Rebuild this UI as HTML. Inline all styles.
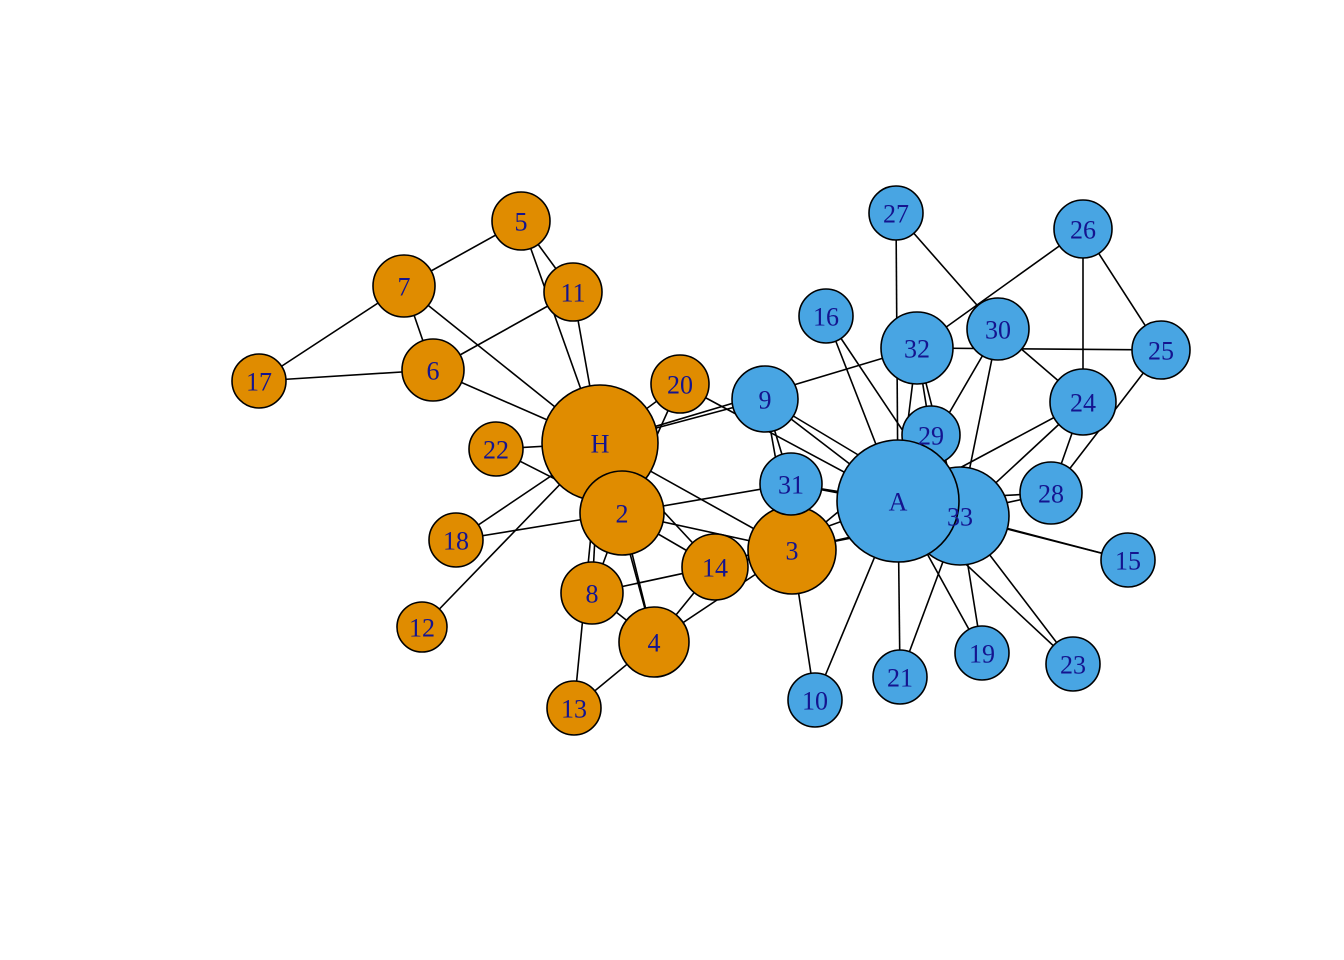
<!DOCTYPE html>
<html><head><meta charset="utf-8"><style>
html,body{margin:0;padding:0;background:#fff;}
svg{display:block;}
text{font-family:"Liberation Serif",serif;font-size:26px;fill:#14148f;text-anchor:middle;dominant-baseline:central;}
</style></head><body>
<svg id="g" width="1344" height="960" xmlns="http://www.w3.org/2000/svg"></svg>
<script>
var N={1:[600,443,58,'H'],2:[622,513,42],3:[792,550,44],4:[654,642,35],5:[521,221,29],6:[433,370,31],7:[404,286,31],8:[592,593,31],9:[765,399,33],10:[815,700,27],11:[573,292,29],12:[422,627,25],13:[574,708,27],14:[715,567,33],15:[1128,560,27],16:[826,316,27],17:[259,381,27],18:[456,540,27],19:[982,653,27],20:[680,384,29],21:[900,677,27],22:[496,449,27],23:[1073,664,27],24:[1083,402,33],25:[1161,350,29],26:[1083,229,29],27:[896,213,27],28:[1051,493,31],29:[931,435,29],30:[998,329,31],31:[791,484,31],32:[917,348,36],33:[960,516,49],34:[898,501,61,'A']};
var E=[[1,2],[1,3],[1,4],[1,5],[1,6],[1,7],[1,8],[1,9],[1,11],[1,12],[1,13],[1,14],[1,18],[1,20],[1,22],[1,32],[2,3],[2,4],[2,8],[2,14],[2,18],[2,20],[2,22],[2,31],[3,4],[3,8],[3,9],[3,10],[3,14],[3,28],[3,29],[3,33],[4,8],[4,13],[4,14],[5,7],[5,11],[6,7],[6,11],[6,17],[7,17],[9,31],[9,33],[9,34],[10,34],[14,34],[15,33],[15,34],[16,33],[16,34],[19,33],[19,34],[20,34],[21,33],[21,34],[23,33],[23,34],[24,26],[24,28],[24,30],[24,33],[24,34],[25,26],[25,28],[25,32],[26,32],[27,30],[27,34],[28,34],[29,32],[29,34],[30,33],[30,34],[31,33],[31,34],[32,33],[32,34],[33,34]];
var s='';
E.forEach(function(e){var a=N[e[0]],b=N[e[1]];s+='<line x1="'+a[0]+'" y1="'+a[1]+'" x2="'+b[0]+'" y2="'+b[1]+'" stroke="#000" stroke-width="1.6"/>';});
var orange=[1,2,3,4,5,6,7,8,11,12,13,14,17,18,20,22];
var t='';
for(var i=1;i<=34;i++){var n=N[i];var c=orange.indexOf(i)>=0?'#E08C00':'#48A5E3';
s+='<circle cx="'+n[0]+'" cy="'+n[1]+'" r="'+n[2]+'" fill="'+c+'" stroke="#000" stroke-width="1.6"/>';
t+='<text x="'+n[0]+'" y="'+(n[1]+1)+'">'+(n[3]||i)+'</text>';}
document.getElementById('g').innerHTML=s+t;
</script>
</body></html>
